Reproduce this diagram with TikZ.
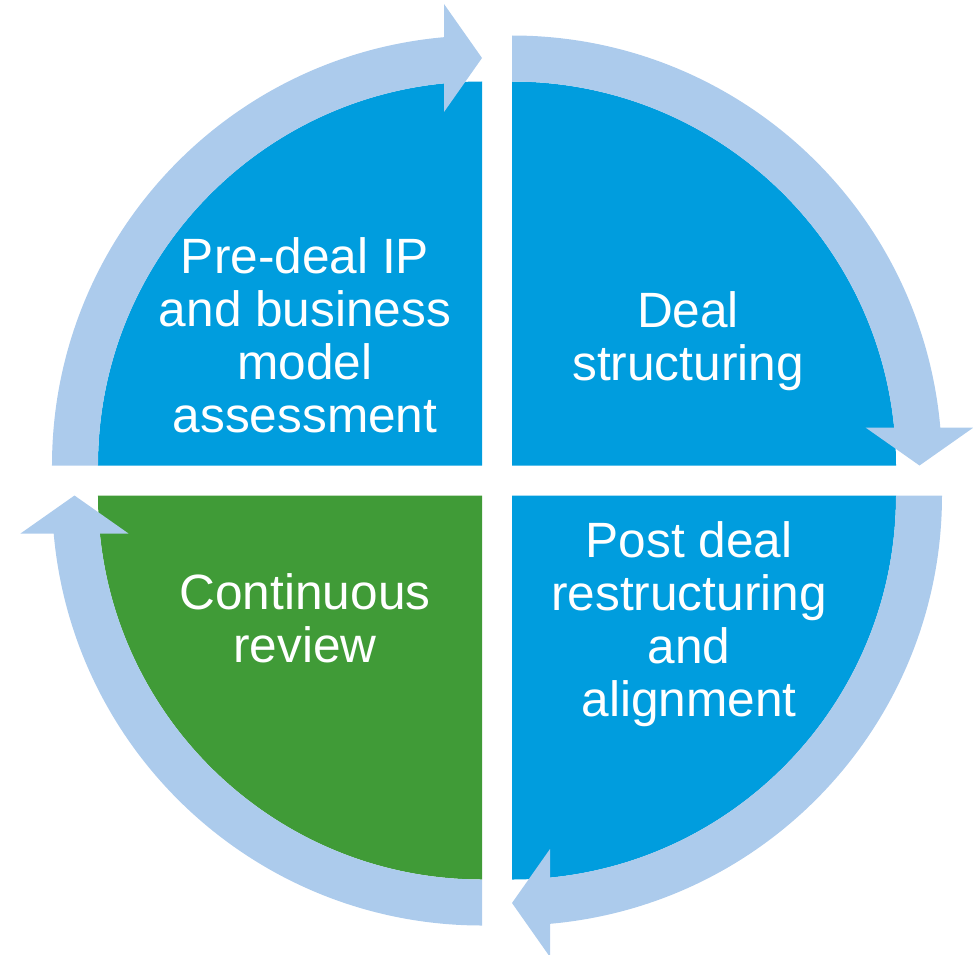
\documentclass[tikz,border=0pt]{standalone}
\usepackage{fontspec}
\setmainfont{Liberation Sans}
\definecolor{dealblue}{RGB}{0,157,222}
\definecolor{dealgreen}{RGB}{64,155,55}
\definecolor{ringblue}{RGB}{172,203,236}

\begin{document}
\begin{tikzpicture}[x=0.01cm,y=0.01cm,
                    main node/.style={align=center,text=white,font=\fontsize{14.1}{15.1}\selectfont},
                    ring/.style={fill=ringblue}]

  \useasboundingbox (-497,-473.5) rectangle (476,480.5);

  % one quarter and its arrow, turned round the middle
  \foreach \r/\c in {0/dealblue,-90/dealblue,-180/dealblue,-270/dealgreen} {
    \begin{scope}[rotate=\r]
      \fill[\c] (-15,15) -- (-399,15) arc[start angle=180,end angle=90,radius=384] -- cycle;
      \fill[ring] (-399,15) -- (-445,15) arc[start angle=180,end angle=95,radius=430]
        -- ([shift={(95:384)}]-15,15) arc[start angle=95,end angle=180,radius=384] -- cycle;
      \fill[ring] (-15,422.5) -- (-53,476.5) -- (-53,368.5) -- cycle;
    \end{scope}
  }

  \node[main node] (1) at (-192,145.5) {Pre-deal IP\\and business\\model\\assessment};
  \node[main node] (2) at (191,139.5) {Deal\\structuring};
  \node[main node] (3) at (192,-143.5) {Post deal\\restructuring\\and\\alignment};
  \node[main node] (4) at (-192,-138) {Continuous\\review};
\end{tikzpicture}
\end{document}
